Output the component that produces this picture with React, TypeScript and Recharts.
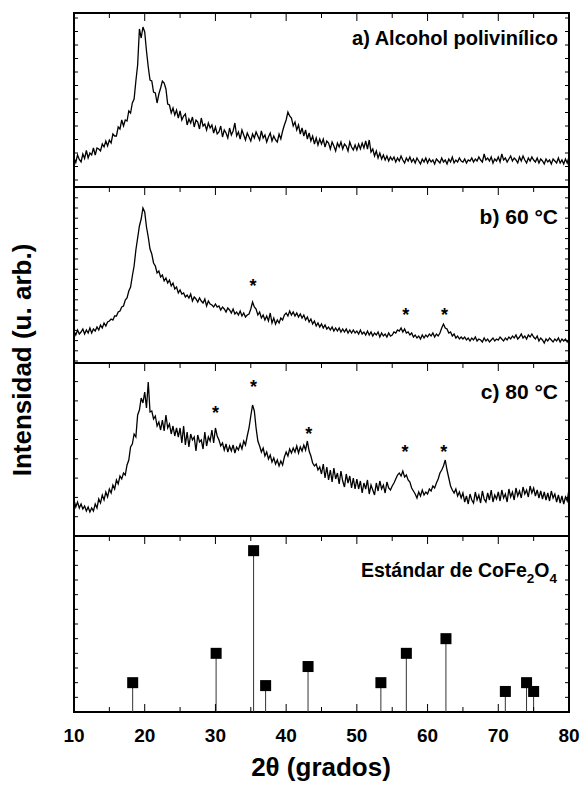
import React from "react";
import { Bar, ComposedChart, Line, ReferenceArea, Scatter, XAxis, YAxis } from "recharts";

// 2-theta scan: 10 to 80 degrees, one reading every 0.25 degree
const START = 10;
const STEP = 0.25;

// a) polyvinyl alcohol
const pvaCounts = [
  29, 24.5, 32, 27.5, 25, 33, 28.5, 36.5, 29, 34, 32, 39, 32, 39, 38, 36, 43, 40, 46, 41,
  47, 44, 53, 51, 51, 60, 58, 67, 61, 67, 66, 76, 74, 84, 88, 106, 122, 158, 149, 160,
  155, 136, 120, 107, 106, 95, 94, 84, 93, 99, 106, 104, 98, 83, 82, 74, 79, 72, 77, 69,
  76, 67, 71, 73, 62, 68, 64, 70, 60, 67, 65, 58, 69, 61, 63, 57, 64, 59, 62, 54,
  60, 53, 55, 61, 50, 57, 54, 49, 59, 52, 56, 64, 51, 55, 48, 57, 52, 47, 54, 50,
  46, 53, 49, 55, 51, 47, 56, 49, 52, 45, 50, 54, 46, 51, 47, 45, 53, 48, 56, 62,
  67, 75, 71, 69, 61, 65, 57, 62, 53, 59, 51, 57, 48, 54, 46, 51, 43, 49, 42, 48,
  43, 48, 40, 46, 44, 38, 45, 41, 36, 44, 40, 45, 38, 43, 41, 36, 45, 40, 37, 42,
  37, 43, 38, 44, 39, 46, 38, 47, 35, 38, 31, 36, 29, 34, 28, 32, 27, 31, 26, 30,
  27, 30, 25, 29, 26, 31, 27, 24, 29, 26, 30, 25, 28, 24, 29, 26, 23, 28, 25, 29,
  24, 28, 25, 27, 23, 28, 26, 24, 29, 25, 27, 23, 28, 25, 30, 24, 27, 25, 29, 26,
  25, 28, 24, 27, 26, 29, 25, 28, 26, 30, 27, 25, 33, 27, 29, 26, 30, 24, 28, 26,
  30, 25, 33, 27, 29, 25, 28, 31, 26, 29, 27, 24, 30, 26, 31, 27, 24, 29, 26, 30,
  27, 25, 29, 24, 28, 26, 23, 28, 25, 27, 23, 28, 26, 24, 29, 24, 27, 23, 28, 24,
  30,
];

// b) 60 °C
const t60Counts = [
  32, 28, 33, 29, 31, 34, 29, 33, 30, 35, 30, 34, 32, 36, 33, 38, 35, 40, 37, 41,
  42, 44, 43, 47, 47, 51, 52, 56, 57, 63, 65, 72, 76, 87, 97, 113, 125, 137, 144, 155,
  151, 136, 126, 114, 109, 100, 97, 90, 92, 86, 88, 82, 85, 80, 83, 77, 80, 74, 76, 70,
  73, 69, 70, 66, 68, 65, 69, 62, 66, 64, 61, 65, 62, 60, 64, 57, 62, 59, 58, 56,
  59, 56, 57, 53, 56, 54, 51, 55, 53, 50, 54, 49, 51, 48, 52, 47, 50, 46, 48, 49,
  54, 61, 56, 54, 48, 51, 45, 48, 43, 47, 42, 50, 40, 45, 39, 43, 40, 45, 43, 48,
  50, 47, 52, 48, 51, 47, 50, 46, 49, 45, 48, 43, 46, 41, 44, 39, 42, 37, 40, 36,
  39, 35, 38, 34, 36, 33, 36, 32, 35, 32, 35, 31, 34, 31, 34, 30, 33, 30, 33, 30,
  32, 29, 33, 29, 31, 28, 32, 28, 31, 27, 30, 28, 31, 26, 30, 27, 29, 26, 30, 27,
  28, 31, 30, 33, 32, 35, 31, 34, 30, 31, 28, 30, 26, 28, 25, 27, 24, 28, 25, 28,
  26, 29, 27, 30, 26, 29, 27, 30, 35, 39, 35, 34, 30, 31, 27, 29, 25, 27, 24, 26,
  24, 26, 23, 25, 22, 25, 23, 26, 22, 24, 23, 21, 25, 22, 24, 21, 23, 25, 22, 24,
  23, 26, 24, 22, 25, 23, 26, 24, 27, 25, 28, 24, 26, 29, 25, 27, 24, 28, 26, 29,
  26, 24, 27, 22, 25, 23, 20, 24, 22, 25, 23, 21, 24, 22, 25, 21, 24, 22, 24, 21,
  24,
];

// c) 80 °C
const t80Counts = [
  36, 29, 34, 28, 32, 27, 30, 25, 29, 24, 28, 25, 32, 28, 37, 33, 41, 36, 44, 39,
  47, 43, 51, 47, 56, 52, 60, 57, 63, 61, 71, 76, 89, 92, 102, 99, 121, 126, 138, 133,
  144, 128, 154, 124, 125, 117, 120, 110, 114, 106, 116, 105, 121, 108, 112, 102, 110, 100, 108, 99,
  108, 93, 110, 91, 104, 89, 102, 96, 99, 85, 101, 94, 96, 87, 104, 90, 99, 95, 106, 93,
  108, 100, 96, 90, 93, 86, 92, 84, 90, 85, 91, 83, 89, 86, 92, 87, 95, 91, 100, 108,
  120, 131, 125, 108, 95, 90, 84, 88, 80, 84, 77, 81, 74, 78, 72, 76, 70, 75, 71, 79,
  84, 80, 87, 83, 88, 84, 90, 83, 89, 85, 91, 86, 95, 85, 80, 73, 70, 72, 66, 69,
  62, 72, 58, 69, 56, 66, 54, 68, 57, 63, 52, 65, 55, 49, 62, 53, 60, 48, 58, 47,
  57, 47, 55, 43, 53, 47, 56, 42, 51, 46, 41, 53, 45, 55, 47, 51, 43, 54, 48, 46,
  50, 53, 57, 61, 63, 60, 65, 59, 61, 56, 54, 48, 45, 42, 38, 44, 40, 46, 41, 44,
  42, 47, 45, 50, 48, 53, 57, 63, 66, 70, 76, 66, 58, 50, 46, 43, 47, 40, 44, 38,
  43, 34, 40, 32, 42, 36, 33, 44, 36, 41, 33, 45, 37, 34, 43, 36, 46, 34, 41, 37,
  44, 35, 46, 38, 42, 34, 47, 39, 44, 36, 48, 40, 45, 38, 49, 42, 46, 39, 50, 43,
  48, 40, 46, 38, 45, 37, 44, 36, 43, 35, 45, 38, 42, 34, 41, 33, 40, 32, 39, 35,
  47,
];

// d) CoFe2O4 reference pattern
const refAngles = [18.3, 30.1, 35.4, 37.1, 43.1, 53.4, 57.0, 62.6, 71.0, 74.0, 75.0];
const refIntensity = [20, 40, 110, 18, 31, 20, 40, 50, 14, 20, 14];

// asterisks marking the ferrite reflections
const star60Angles = [35.3, 56.9, 62.4];
const star60Heights = [81, 52, 52];
const star80Angles = [30.0, 35.4, 43.2, 56.8, 62.3];
const star80Heights = [127, 153, 106, 88, 88];

const xTicks = [10, 15, 20, 25, 30, 35, 40, 45, 50, 55, 60, 65, 70, 75, 80];

const FONT = '"Liberation Sans", Arial, Helvetica, sans-serif';
const CHART_W = 581;
const LEFT = 74;
const RIGHT = 12;
const PAD = 2;
const LABEL_SPACE = 34;

const toRows = (values: number[]) =>
  values.map((y, i) => ({ x: START + i * STEP, y }));
const pairRows = (xs: number[], ys: number[]) => xs.map((x, i) => ({ x, y: ys[i] }));
const tickRange = (from: number, step: number, max: number) => {
  const out: number[] = [];
  for (let v = from; v <= max + 0.01; v += step) out.push(Math.round(v * 100) / 100);
  return out;
};

const Star = (props: any) => (
  <text
    x={props.cx}
    y={props.cy + 10}
    textAnchor="middle"
    fontFamily={FONT}
    fontWeight="bold"
    fontSize={18}
    fill="#000"
  >
    *
  </text>
);

const Square = (props: any) => (
  <rect x={props.cx - 5.5} y={props.cy - 5.5} width={11} height={11} fill="#000" />
);

type PanelProps = {
  top: number;
  height: number;
  yMax: number;
  yTicks: number[];
  labels?: boolean;
  data?: { x: number; y: number }[];
  children: React.ReactNode;
};

function Panel({ top, height, yMax, yTicks, labels, data, children }: PanelProps) {
  const plotTop = PAD;
  const plotBottom = PAD + height;
  const plotRight = CHART_W - RIGHT;

  // inward ticks on top (and bottom + numbers for the last panel)
  const renderXTick = (p: any) => {
    const v = p.payload.value;
    const len = v % 10 === 0 ? 8 : 5;
    return (
      <g>
        <line x1={p.x} x2={p.x} y1={plotTop} y2={plotTop + len} stroke="#000" />
        {labels && <line x1={p.x} x2={p.x} y1={plotBottom} y2={plotBottom - len} stroke="#000" />}
        {labels && v % 10 === 0 && (
          <text x={p.x} y={plotBottom + 30} textAnchor="middle" fontFamily={FONT} fontWeight="bold" fontSize={19} fill="#000">
            {v}
          </text>
        )}
      </g>
    );
  };

  const renderYTick = (p: any) => (
    <g>
      <line x1={LEFT} x2={LEFT + 4} y1={p.y} y2={p.y} stroke="#000" />
      <line x1={plotRight - 4} x2={plotRight} y1={p.y} y2={p.y} stroke="#000" />
    </g>
  );

  return (
    <div style={{ position: "absolute", left: 0, top: top - PAD }}>
      <ComposedChart
        width={CHART_W}
        height={height + 2 * PAD + (labels ? LABEL_SPACE : 0)}
        data={data}
        margin={{ top: PAD, right: RIGHT, bottom: PAD + (labels ? LABEL_SPACE : 0), left: LEFT }}
      >
        <XAxis
          xAxisId="x"
          dataKey="x"
          type="number"
          domain={[10, 80]}
          ticks={xTicks}
          interval={0}
          orientation="top"
          mirror
          axisLine={false}
          tickLine={false}
          tick={renderXTick}
          allowDataOverflow
        />
        <YAxis
          yAxisId="y"
          dataKey="y"
          type="number"
          domain={[0, yMax]}
          ticks={yTicks}
          interval={0}
          mirror
          axisLine={false}
          tickLine={false}
          tick={renderYTick}
          allowDataOverflow
        />
        <ReferenceArea
          xAxisId="x"
          yAxisId="y"
          x1={10}
          x2={80}
          y1={0}
          y2={yMax}
          fill="none"
          fillOpacity={0}
          stroke="#000"
          strokeWidth={2}
          ifOverflow="visible"
        />
        {children}
      </ComposedChart>
    </div>
  );
}

const lineProps = {
  xAxisId: "x",
  yAxisId: "y",
  dataKey: "y",
  type: "linear" as const,
  stroke: "#000",
  strokeWidth: 1.3,
  dot: false,
  isAnimationActive: false,
};

export default function App() {
  return (
    <div style={{ position: "absolute", left: 0, top: 0, width: 581, height: 789, background: "#fff" }}>
      <Panel top={13} height={174} yMax={174} yTicks={tickRange(7, 13.5, 174)} data={toRows(pvaCounts)}>
        <Line {...lineProps} />
      </Panel>
      <Panel top={187} height={176} yMax={176} yTicks={tickRange(2, 10.2, 176)} data={toRows(t60Counts)}>
        <Line {...lineProps} />
        <Scatter xAxisId="x" yAxisId="y" data={pairRows(star60Angles, star60Heights)} shape={Star} isAnimationActive={false} />
      </Panel>
      <Panel top={363} height={173} yMax={173} yTicks={tickRange(0, 19.3, 173)} data={toRows(t80Counts)}>
        <Line {...lineProps} />
        <Scatter xAxisId="x" yAxisId="y" data={pairRows(star80Angles, star80Heights)} shape={Star} isAnimationActive={false} />
      </Panel>
      <Panel top={536} height={176} yMax={120} yTicks={tickRange(0, 10, 120)} labels data={pairRows(refAngles, refIntensity)}>
        <Bar xAxisId="x" yAxisId="y" dataKey="y" barSize={1} fill="#333" isAnimationActive={false} />
        <Scatter xAxisId="x" yAxisId="y" shape={Square} isAnimationActive={false} />
      </Panel>

      <svg width={581} height={789} style={{ position: "absolute", left: 0, top: 0, pointerEvents: "none" }}>
        <g fontFamily={FONT} fontWeight="bold" fill="#000">
          <text x={558} y={45} textAnchor="end" fontSize={20}>a) Alcohol polivinílico</text>
          <text x={558} y={224} textAnchor="end" fontSize={21}>b) 60 °C</text>
          <text x={558} y={399} textAnchor="end" fontSize={21}>c) 80 °C</text>
          <text x={557} y={577} textAnchor="end" fontSize={19.5}>
            Estándar de CoFe
            <tspan fontSize={13.5} dy={6}>2</tspan>
            <tspan fontSize={19.5} dy={-6}>O</tspan>
            <tspan fontSize={13.5} dy={6}>4</tspan>
          </text>
          <text x={31} y={360} textAnchor="middle" fontSize={26} transform="rotate(-90, 31, 360)">
            Intensidad (u. arb.)
          </text>
          <text x={321} y={776} textAnchor="middle" fontSize={26}>2θ (grados)</text>
        </g>
      </svg>
    </div>
  );
}
